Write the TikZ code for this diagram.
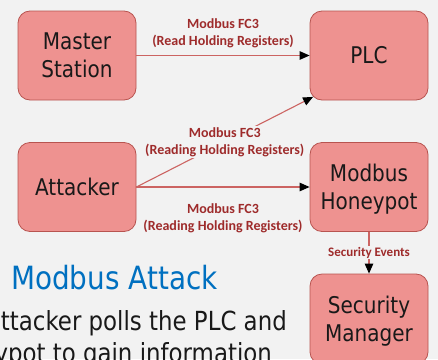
\documentclass[tikz,border=0pt]{standalone}
\usepackage{fontspec}
\newfontfamily\tahf{DejaVu Sans}[FakeStretch=0.87]
\newfontfamily\carl{Carlito}
\usetikzlibrary{arrows.meta,calc}
\definecolor{bgc}{HTML}{F2F2F2}
\definecolor{boxfill}{HTML}{EE9290}
\definecolor{boxdraw}{HTML}{B85450}
\definecolor{linec}{HTML}{CC6462}
\definecolor{labc}{HTML}{9E2B2B}
\definecolor{titleblue}{HTML}{0070C0}
\newcommand\nodesc[1]{\raisebox{0pt}[\height][0pt]{#1}}
\tikzset{
  box/.style={draw=boxdraw, fill=boxfill, rounded corners=12pt, minimum width=118pt,
    minimum height=89pt, inner sep=0pt, align=center, text=black!90,
    font=\tahf\fontsize{23}{28}\selectfont, line width=0.8pt},
  conn/.style={draw=linec, line width=1.1pt, -{Triangle[length=10pt,width=8.5pt,color=black]}},
  lab/.style={text=labc, font=\carl\bfseries\fontsize{14}{17.3}\selectfont, align=center, inner sep=1pt},
  lab2/.style={text=labc, font=\carl\bfseries\fontsize{13}{15}\selectfont, inner sep=1pt},
  bodytext/.style={anchor=base east, text=black!90, font=\tahf\fontsize{26.3}{26}\selectfont, inner sep=0pt}
}
\begin{document}
\begin{tikzpicture}[x=1pt,y=-1pt]
\fill[bgc] (0,0) rectangle (438,359);
\useasboundingbox (0,0) rectangle (438,359);
\node[box] (ms) at (77,55.5) {Master\\Station};
\node[box] (plc) at (369,55.5) {PLC};
\node[box] (att) at (77,187) {Attacker};
\node[box] (hp) at (369,187) {Modbus\\\nodesc{Honeypot}};
\node[box, minimum height=90pt] (sm) at (369,319) {Security\\\nodesc{Manager}};
\coordinate (plcc) at ($(plc.south west)+(3.5,-3.5)$);
\draw[conn] (ms) -- node[lab, above=6pt] {Modbus FC3\\(Read Holding Registers)} (plc);
\draw[conn] (att.east) -- node[lab, fill=bgc] {Modbus FC3\\(Reading Holding Registers)} (plcc);
\draw[conn] (att) -- node[lab, below=15pt] {Modbus FC3\\(Reading Holding Registers)} (hp);
\draw[conn] (hp) -- node[lab2, fill=bgc] {Security Events} (sm);
\node[anchor=base west, text=titleblue, font=\tahf\fontsize{32}{32}\selectfont, inner sep=0pt] (title) at (11,289) {Modbus Attack};
\node[bodytext] (b1) at (287,330) {ttacker polls the PLC and};
\node[bodytext] (b2) at (272,362) {ypot to gain information};
\end{tikzpicture}
\end{document}
